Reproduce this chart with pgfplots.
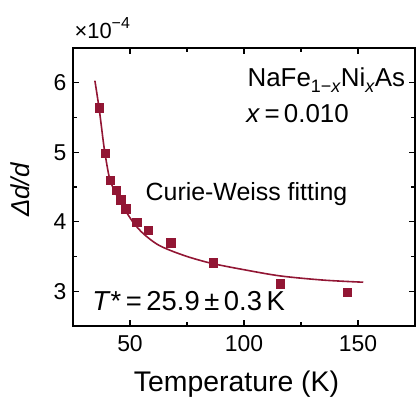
\documentclass[border=0pt]{standalone}
\usepackage{pgfplots}
\pgfplotsset{compat=1.18}
\usepackage{fontspec}
\setmainfont{Liberation Sans}
\definecolor{cwred}{RGB}{146,22,52}
\begin{document}
\begin{tikzpicture}
\begin{axis}[
  at={(0,0)}, anchor=south west,
  width=342bp, height=278bp, scale only axis,
  xmin=25, xmax=175, ymin=2.5, ymax=6.5,
  xtick={50,100,150}, ytick={3,4,5,6},
  minor x tick num=1, minor y tick num=1,
  tick align=inside,
  major tick length=6bp, minor tick length=4bp,
  axis line style={line width=1.4bp},
  every tick/.style={line width=1.1bp, black},
  scaled ticks=false,
  /pgf/number format/assume math mode=true,
  ticklabel style={font=\fontsize{23}{25}\selectfont},
  yticklabel style={xshift=-3bp},
  xticklabel style={yshift=-6bp},
  xlabel={Temperature (K)},
  ylabel={\textit{Δd/d}},
  xlabel style={font=\fontsize{28.5}{32}\selectfont, at={(axis description cs:0.478,-0.235)}, anchor=base},
  ylabel style={font=\fontsize{26}{30}\selectfont, at={(axis description cs:-0.155,0.49)}, anchor=center},
  clip=false,
]
\addplot[cwred, line width=1.6bp, smooth, tension=0.5] coordinates {
 (34.6,6.03) (36.5,5.62) (38.3,5.15) (39.2,4.95) (41,4.63) (43.4,4.43)
 (47.1,4.21) (51.4,3.99) (55.8,3.83) (61.7,3.68) (67.5,3.59) (76,3.49)
 (86,3.40) (100,3.31) (116,3.22) (135,3.16) (152.3,3.13)
};
\addplot[only marks, mark=square*, mark size=4.2bp, color=cwred, fill=cwred] coordinates {
 (36.5,5.64) (39.0,4.99) (41.2,4.60) (43.9,4.45) (45.9,4.32) (48.2,4.19)
 (52.9,3.99) (58.0,3.88) (67.9,3.70) (86.5,3.41) (115.8,3.11) (145.3,2.99)
};
\node[anchor=base west, inner sep=0pt, font=\fontsize{26}{30}\selectfont] at (axis cs:101.5,5.94)
  {NaFe\raisebox{-0.4ex}{\fontsize{18}{18}\selectfont 1−\textit{x}}Ni\raisebox{-0.4ex}{\fontsize{18}{18}\selectfont\textit{x}}As};
\node[anchor=base west, inner sep=0pt, font=\fontsize{26}{30}\selectfont] at (axis cs:101,5.43)
  {\textit{x}\,=\,0.010};
\node[anchor=base west, inner sep=0pt, font=\fontsize{25}{30}\selectfont] at (axis cs:56.8,4.31)
  {Curie-Weiss fitting};
\node[anchor=base west, inner sep=0pt, font=\fontsize{27.5}{32}\selectfont] at (axis cs:33.4,2.72)
  {\textit{T}*\,=\,25.9\,±\,0.3\,K};
\node[anchor=base west, inner sep=0pt, font=\fontsize{22}{24}\selectfont] at (axis cs:25.6,6.64)
  {×10\raisebox{0.85ex}{\fontsize{16}{16}\selectfont −4}};
\end{axis}
\pgfresetboundingbox
\path[use as bounding box] (-73bp,-73bp) rectangle (346bp,326bp);
\end{tikzpicture}
\end{document}
